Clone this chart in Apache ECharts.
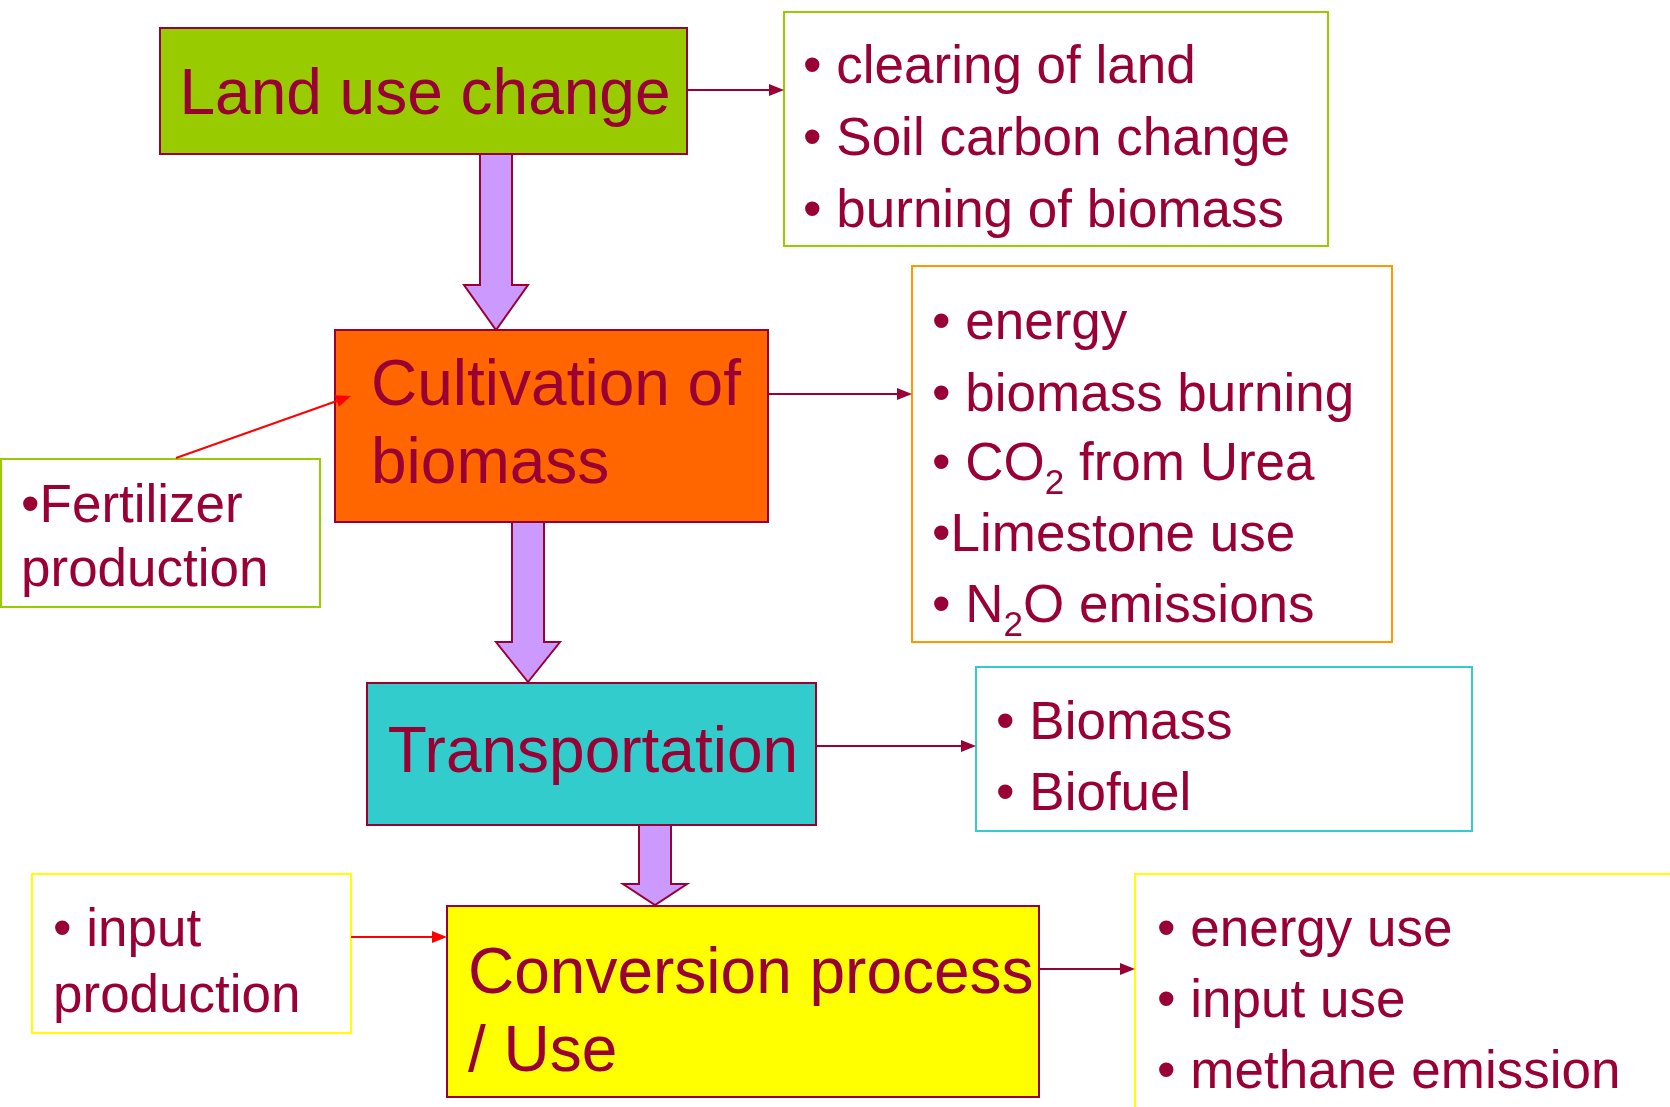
<!DOCTYPE html>
<html lang="en">
<head>
<meta charset="UTF-8">
<title>Biofuel chain emission sources</title>
<script src="https://cdn.jsdelivr.net/npm/echarts@6/dist/echarts.min.js"></script>
<style>html,body{margin:0;background:#fff;}</style>
</head>
<body>
<div id="chart" style="width:1670px;height:1107px;"></div>
<script>
// stages of the chain, top to bottom
const stageNames = [['Land use change'], ['Cultivation of', 'biomass'], ['Transportation'], ['Conversion process', '/ Use']];
// emission sources listed beside each stage ("_2" = subscript 2)
const landUseItems = ['• clearing of land', '• Soil carbon change', '• burning of biomass'];
const cultivationItems = ['• energy', '• biomass burning', '• CO_2 from Urea', '•Limestone use', '• N_2O emissions'];
const transportItems = ['• Biomass', '• Biofuel'];
const conversionItems = ['• energy use', '• input use', '• methane emission'];
// upstream inputs feeding a stage
const fertilizerItems = ['•Fertilizer', 'production'];
const inputItems = ['• input', 'production'];

const TEXT = '#990033';
const FONT = '"Liberation Sans", Arial, Helvetica, sans-serif';
const DY = 4; // text sits a little low in its line

// layout: [x, y, w, h]
const stageBox = [[160, 28, 527, 126], [335, 330, 433, 192], [367, 683, 449, 142], [447, 906, 592, 191]];
const stageFill = ['#99CC00', '#FF6600', '#33CCCC', '#FFFF00'];
const stageText = [
  {align: 'center', x: 425, y: [92]},
  {align: 'left', x: 371, y: [383, 461]},
  {align: 'center', x: 593, y: [750]},
  {align: 'left', x: 468, y: [971, 1049]}
];
const sideBoxes = [
  {items: landUseItems, box: [784, 12, 544, 234], color: '#99CC00', x: 803, y: [64, 136, 208]},
  {items: cultivationItems, box: [912, 266, 480, 376], color: '#FF9900', x: 932, y: [320, 392, 461, 532, 603]},
  {items: transportItems, box: [976, 667, 496, 164], color: '#33CCCC', x: 996, y: [720, 791]},
  {items: conversionItems, box: [1135, 874, 600, 260], color: '#FFFF00', x: 1157, y: [927, 998, 1069]},
  {items: fertilizerItems, box: [1, 459, 319, 148], color: '#99CC00', x: 21, y: [503, 567]},
  {items: inputItems, box: [32, 874, 319, 159], color: '#FFFF00', x: 53, y: [927, 993]}
];
// thin connectors [x1, y1, x2, y2, colour]
const links = [
  [687, 90, 784, 90, '#990033'],
  [768, 394, 912, 394, '#990033'],
  [816, 746, 976, 746, '#990033'],
  [1039, 969, 1135, 969, '#990033'],
  [176, 458, 351, 396, '#FF0000'],
  [351, 937, 447, 937, '#FF0000']
];
// block arrows between stages [centre x, top, head start, tip]
const blockArrows = [[496, 154, 285, 330], [528, 522, 642, 682], [655, 825, 884, 905]];

const ctx = document.createElement('canvas').getContext('2d');
function textWidth(s, size) {
  ctx.font = size + 'px ' + FONT;
  return ctx.measureText(s).width;
}

function textLine(x, y, str, size, align) {
  y += DY;
  const parts = str.split(/_(\d)/);
  if (parts.length === 1) {
    return [{type: 'text', x: x, y: y, silent: true,
      style: {text: str, font: size + 'px ' + FONT, fill: TEXT, align: align, verticalAlign: 'middle'}}];
  }
  const out = [];
  let cx = x;
  parts.forEach((p, i) => {
    if (!p) return;
    const sub = i % 2 === 1;
    const fs = sub ? Math.round(size * 0.66) : size;
    out.push({type: 'text', x: cx, y: sub ? y + size * 0.37 : y, silent: true,
      style: {text: p, font: fs + 'px ' + FONT, fill: TEXT, align: 'left', verticalAlign: 'middle'}});
    cx += textWidth(p, fs);
  });
  return out;
}

const els = [];

blockArrows.forEach(([cx, top, hy, tip]) => {
  els.push({type: 'polygon', silent: true,
    shape: {points: [[cx - 16, top], [cx + 16, top], [cx + 16, hy], [cx + 32, hy], [cx, tip], [cx - 32, hy], [cx - 16, hy]]},
    style: {fill: '#CC99FF', stroke: '#990033', lineWidth: 2}});
});

stageBox.forEach((b, i) => {
  els.push({type: 'rect', silent: true, shape: {x: b[0], y: b[1], width: b[2], height: b[3]},
    style: {fill: stageFill[i], stroke: '#990033', lineWidth: 2}});
  const t = stageText[i];
  stageNames[i].forEach((line, j) => els.push(...textLine(t.x, t.y[j], line, 64, t.align)));
});

sideBoxes.forEach(s => {
  const b = s.box;
  els.push({type: 'rect', silent: true, shape: {x: b[0], y: b[1], width: b[2], height: b[3]},
    style: {fill: '#fff', stroke: s.color, lineWidth: 2}});
  s.items.forEach((line, j) => els.push(...textLine(s.x, s.y[j], line, 53, 'left')));
});

links.forEach(([x1, y1, x2, y2, c]) => {
  const a = Math.atan2(y2 - y1, x2 - x1);
  const L = 15, W = 6;
  const bx = x2 - L * Math.cos(a), by = y2 - L * Math.sin(a);
  els.push({type: 'line', silent: true, shape: {x1: x1, y1: y1, x2: bx, y2: by}, style: {stroke: c, lineWidth: 2}});
  els.push({type: 'polygon', silent: true,
    shape: {points: [[x2, y2], [bx - W * Math.sin(a), by + W * Math.cos(a)], [bx + W * Math.sin(a), by - W * Math.cos(a)]]},
    style: {fill: c}});
});

const chart = echarts.init(document.getElementById('chart'));
chart.setOption({
  backgroundColor: '#fff',
  animation: false,
  graphic: {elements: els}
});
</script>
</body>
</html>
